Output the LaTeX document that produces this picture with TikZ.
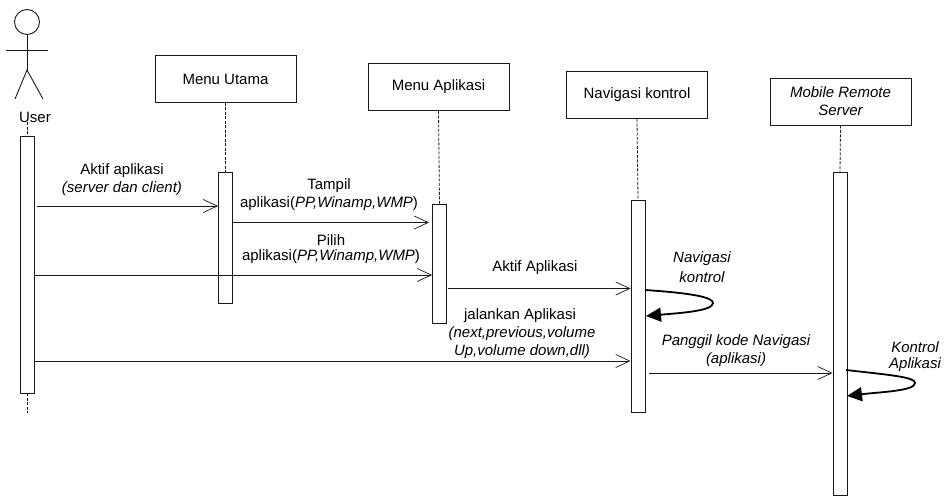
\documentclass[tikz,border=0pt]{standalone}
\usepackage{fontspec}
\setmainfont{Liberation Sans}
\usetikzlibrary{arrows.meta}
\tikzset{
  x=1pt,y=-1pt,
  objbox/.style={draw=black!90,line width=0.9pt,fill=white,minimum width=141pt,minimum height=47pt,inner sep=0pt,align=center},
  actbox/.style={draw=black!90,line width=0.9pt,fill=white,minimum width=14pt,inner sep=0pt},
  lifeline/.style={draw=black!90,line width=0.8pt,dash pattern=on 3pt off 1.5pt},
  msg/.style={draw=black!90,line width=0.9pt,-{Straight Barb[length=14pt,width=13pt,line width=0.7pt]}},
  selfmsg/.style={draw=black,line width=1.8pt,-{Triangle[length=15pt,width=14pt]}},
  lbl/.style={inner sep=0pt,align=center,font=\fontsize{15pt}{18pt}\selectfont},
  limb/.style={draw=black!90,line width=0.9pt}
}
\begin{document}
\begin{tikzpicture}
\useasboundingbox[fill=white] (0,0) rectangle (944,500);
% actor
\node[circle,draw=black!90,line width=0.9pt,minimum size=25pt,inner sep=0pt] (head) at (27,22) {};
\coordinate (neck) at (27,50);
\coordinate (hip) at (27,70);
\coordinate (handL) at (6,50);
\coordinate (handR) at (48,50);
\coordinate (footL) at (15,99);
\coordinate (footR) at (43,99);
\draw[limb] (head.south) -- (hip);
\draw[limb] (handL) -- (handR);
\draw[limb] (footL) -- (hip) -- (footR);
\node[lbl] (user) at (35,117) {User};
% object boxes
\node[objbox] (mu) at (225.5,79) {};
\node[lbl] (mut) at (225.5,79) {Menu Utama};
\node[objbox] (ma) at (438.5,87) {};
\node[lbl] (mat) at (438.5,87) {Menu Aplikasi};
\node[objbox] (nk) at (637,95) {};
\node[lbl] (nkt) at (637,95) {Navigasi kontrol};
\node[objbox] (mr) at (840.5,101.5) {};
\node[lbl,font=\fontsize{15pt}{18pt}\selectfont\itshape] (mrt) at (840.5,101) {Mobile Remote\\Server};
% activations
\node[actbox,minimum height=257pt] (au) at (27,264.5) {};
\node[actbox,minimum height=131pt] (amu) at (225.5,237.5) {};
\node[actbox,minimum height=119pt] (ama) at (439.5,263.5) {};
\node[actbox,minimum height=212pt] (ank) at (638,306) {};
\node[actbox,minimum height=323pt] (amr) at (840,333.5) {};
% lifelines
\coordinate (ustart) at (27,122);
\coordinate (uend) at (27,413);
\draw[lifeline] (ustart) -- (au.north);
\draw[lifeline] (au.south) -- (uend);
\draw[lifeline] (mu.south) -- (amu.north);
\draw[lifeline] (ma.south) -- (ama.north);
\draw[lifeline] (nk.south) -- (ank.north);
\draw[lifeline] (mr.south) -- (amr.north);
% messages
\coordinate (m1) at (37,206);
\coordinate (m2) at (233,222.5);
\coordinate (m2e) at (429,222.5);
\coordinate (m3) at (34,275);
\coordinate (m4) at (448,288.5);
\coordinate (m5) at (34,361);
\coordinate (m6) at (649,373);
\draw[msg] (m1) -- (amu.west |- m1);
\draw[msg] (m2) -- (m2e);
\draw[msg] (m3) -- (ama.west |- m3);
\draw[msg] (m4) -- (ank.west |- m4);
\draw[msg] (m5) -- (ank.west |- m5);
\draw[msg] (m6) -- (amr.west |- m6);
% self calls
\coordinate (s1a) at (645,290);
\coordinate (s1m) at (713,303);
\coordinate (s1b) at (646,316);
\coordinate (s2a) at (846,370);
\coordinate (s2m) at (915,383);
\coordinate (s2b) at (847,396);
\draw[selfmsg] (s1a) .. controls (690,293) and (713,297) .. (s1m) .. controls (713,311) and (680,313) .. (s1b);
\draw[selfmsg] (s2a) .. controls (890,375) and (915,377) .. (s2m) .. controls (915,391) and (880,392) .. (s2b);
% labels
\node[lbl] (l1) at (122,171) {Aktif aplikasi};
\node[lbl] (l1b) at (122,189) {\itshape (server dan client)};
\node[lbl] (l2) at (329,186) {Tampil};
\node[lbl] (l2b) at (329,204) {aplikasi(\textit{PP,Winamp,WMP})};
\node[lbl] (l3) at (331,240) {Pilih};
\node[lbl] (l3b) at (331,257) {aplikasi(\textit{PP,Winamp,WMP})};
\node[lbl] (l4) at (535,268) {Aktif Aplikasi};
\node[lbl] (l5) at (520,316) {jalankan Aplikasi};
\node[lbl] (l5b) at (522,334) {\itshape (next,previous,volume};
\node[lbl] (l5c) at (522,352) {\itshape Up,volume down,dll)};
\node[lbl] (l6) at (702,259) {\itshape Navigasi};
\node[lbl] (l6b) at (702,277) {\itshape kontrol};
\node[lbl] (l7) at (736,342) {\itshape Panggil kode Navigasi};
\node[lbl] (l7b) at (736,360) {\itshape (aplikasi)};
\node[lbl] (l8) at (915,347) {\itshape Kontrol};
\node[lbl] (l8b) at (915,365) {\itshape Aplikasi};
\end{tikzpicture}
\end{document}
